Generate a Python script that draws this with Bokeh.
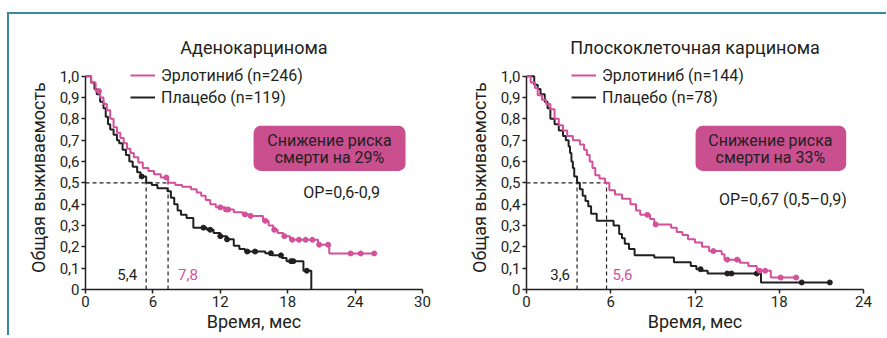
import numpy as np
from bokeh.plotting import figure
from bokeh.layouts import row
from bokeh.models import Range1d, FixedTicker, BoxAnnotation, Legend, LegendItem
from bokeh.core.properties import value
from bokeh.embed import file_html
from bokeh.resources import INLINE

# ---------------- data ----------------
titles = ["Аденокарцинома", "Плоскоклеточная карцинома"]
legend_ero = ["Эрлотиниб (n=246)", "Эрлотиниб (n=144)"]
legend_pl = ["Плацебо (n=119)", "Плацебо (n=78)"]
box_line1 = ["Снижение риска", "Снижение риска"]
box_line2 = ["смерти на 29%", "смерти на 33%"]
hr_text = ["ОР=0,6-0,9", "ОР=0,67 (0,5–0,9)"]
x_max = [30, 24]
x_ticks = [[0, 6, 12, 18, 24, 30], [0, 6, 12, 18, 24]]
y_ticks = [0, 0.1, 0.2, 0.3, 0.4, 0.5, 0.6, 0.7, 0.8, 0.9, 1.0]
y_tick_labels = ["0", "0,1", "0,2", "0,3", "0,4", "0,5", "0,6", "0,7", "0,8", "0,9", "1,0"]

# Adenocarcinoma – erlotinib
ade_ero_t = [0, 0.5, 0.9, 1.3, 1.6, 1.9, 2.2, 2.5, 2.8, 3.1, 3.4, 3.7, 4.0, 4.3, 4.7, 5.1, 5.6, 6.1, 6.7, 7.35,
             8.0, 8.6, 9.4, 9.9, 10.3, 10.7, 11.1, 11.6, 12.4, 13.2, 14.0, 14.6, 15.8, 16.3, 16.7, 17.1, 17.6,
             18.2, 20.7, 21.7]
ade_ero_s = [1.0, 0.97, 0.93, 0.90, 0.87, 0.84, 0.80, 0.76, 0.735, 0.71, 0.685, 0.66, 0.64, 0.62, 0.595, 0.57,
             0.555, 0.54, 0.525, 0.50, 0.49, 0.482, 0.47, 0.455, 0.44, 0.42, 0.40, 0.385, 0.375, 0.362, 0.352,
             0.345, 0.322, 0.30, 0.28, 0.265, 0.25, 0.233, 0.21, 0.169]
ade_ero_end = 25.8
ade_ero_cens = [1.2, 7.2, 12.0, 12.5, 12.7, 14.2, 14.7, 16.0, 16.8, 17.7, 18.4, 19.0, 19.6, 20.2, 20.8, 21.6,
                23.6, 24.5, 25.7]

# Adenocarcinoma – placebo
ade_pl_t = [0, 0.5, 0.8, 1.0, 1.3, 1.6, 1.8, 2.0, 2.2, 2.5, 2.8, 3.0, 3.3, 3.6, 3.9, 4.2, 4.6, 4.9, 5.4, 5.9,
            6.4, 7.3, 7.6, 7.9, 8.2, 8.5, 9.0, 9.6, 10.8, 11.4, 12.0, 12.6, 13.2, 13.7, 14.2, 16.0, 16.6, 17.5,
            17.9, 19.4, 20.1]
ade_pl_s = [1.0, 0.97, 0.94, 0.915, 0.88, 0.85, 0.81, 0.775, 0.75, 0.725, 0.70, 0.685, 0.655, 0.63, 0.60,
            0.575, 0.55, 0.53, 0.50, 0.49, 0.475, 0.46, 0.43, 0.40, 0.37, 0.35, 0.335, 0.29, 0.28, 0.265, 0.25,
            0.235, 0.205, 0.19, 0.178, 0.17, 0.16, 0.148, 0.133, 0.088, 0.0]
ade_pl_end = 20.1
ade_pl_cens = [5.0, 10.5, 11.1, 12.0, 12.6, 14.4, 15.1, 16.5, 17.4, 18.3, 18.5, 19.7]

# Squamous – erlotinib
sq_ero_t = [0, 0.3, 0.6, 0.8, 1.1, 1.4, 1.7, 2.0, 2.3, 2.6, 2.9, 3.3, 3.8, 4.1, 4.3, 4.5, 4.7, 4.9, 5.2, 5.6,
            5.9, 6.3, 6.8, 7.4, 7.8, 8.1, 8.8, 9.1, 10.3, 10.7, 11.1, 11.5, 12.0, 12.5, 13.0, 13.9, 14.1, 15.2,
            15.8, 16.4, 17.4]
sq_ero_s = [1.0, 0.97, 0.945, 0.91, 0.89, 0.87, 0.845, 0.80, 0.77, 0.745, 0.72, 0.70, 0.68, 0.655, 0.63, 0.60,
            0.57, 0.535, 0.52, 0.50, 0.465, 0.445, 0.425, 0.40, 0.37, 0.35, 0.33, 0.305, 0.29, 0.27, 0.255,
            0.235, 0.22, 0.20, 0.18, 0.165, 0.14, 0.125, 0.11, 0.088, 0.056]
sq_ero_end = 19.26
sq_ero_cens = [8.6, 9.2, 13.3, 14.3, 15.0, 16.6, 17.0, 18.1, 19.2]

# Squamous – placebo
sq_pl_t = [0, 0.55, 0.8, 1.0, 1.3, 1.5, 1.7, 2.0, 2.3, 2.6, 2.8, 3.0, 3.1, 3.2, 3.3, 3.4, 3.6, 3.8, 4.0, 4.2,
           4.4, 4.6, 5.0, 6.2, 6.6, 6.8, 7.0, 7.3, 7.7, 9.1, 10.5, 11.7, 12.1, 12.5, 12.9, 16.7]
sq_pl_s = [1.0, 0.96, 0.94, 0.915, 0.88, 0.85, 0.80, 0.775, 0.745, 0.72, 0.70, 0.67, 0.64, 0.60, 0.57, 0.53,
           0.50, 0.47, 0.44, 0.415, 0.39, 0.355, 0.322, 0.30, 0.26, 0.24, 0.215, 0.19, 0.16, 0.15, 0.128, 0.11,
           0.095, 0.088, 0.075, 0.033]
sq_pl_end = 21.6
sq_pl_cens = [12.4, 14.3, 14.6, 16.4, 19.6, 21.6]

median_pl = [5.4, 3.6]
median_ero = [7.35, 5.7]
median_pl_label = ["5,4", "3,6"]
median_ero_label = ["7,8", "5,6"]

# box positions (data units): left, right, bottom, top, text x
box_lr = [(14.96, 28.49), (12.04, 22.77)]
box_bt = (0.556, 0.767)
box_text_x = [21.72, 17.37]
box_text_y = [0.70, 0.62]
hr_xy = [(22.8, 0.453), (18.26, 0.42)]
median_label_y = 0.068

PINK = "#d4509b"
BOX = "#c94f8f"
INK = "#231f20"
FRAME = "#3b87a2"
FONT = "Roboto"


def km_xy(t, s, end):
    return list(t) + [end], list(s) + [s[-1]]


def at(t, s, c):
    idx = np.searchsorted(np.array(t), np.array(c), side="right") - 1
    return [s[i] for i in idx]


def panel(i, width, left_border, right_border, ero, pl, label_offsets):
    top_b, bot_b, frame_h = 51, 46, 224
    p = figure(width=width, height=top_b + frame_h + bot_b, output_backend="svg", toolbar_location=None,
               x_range=Range1d(0, x_max[i]), y_range=Range1d(0, 1.05),
               min_border_left=left_border, min_border_right=right_border,
               min_border_top=top_b, min_border_bottom=bot_b)
    p.outline_line_color = None
    p.grid.visible = False
    p.background_fill_color = "white"
    p.border_fill_color = "white"

    p.title.text = titles[i]
    p.title.align = "center"
    p.title.text_font = FONT
    p.title.text_font_size = "18px"
    p.title.text_font_style = "normal"
    p.title.text_color = INK
    p.title.standoff = 16

    for ax in (p.xaxis[0], p.yaxis[0]):
        ax.axis_line_color = INK
        ax.axis_line_width = 1.5
        ax.major_tick_line_color = INK
        ax.major_tick_line_width = 1.5
        ax.major_tick_in = 0
        ax.major_tick_out = 4
        ax.minor_tick_line_color = None
        ax.major_label_text_font = FONT
        ax.major_label_text_font_size = "15px"
        ax.major_label_text_color = INK
        ax.axis_label_text_font = FONT
        ax.axis_label_text_font_size = "18px"
        ax.axis_label_text_font_style = "normal"
        ax.axis_label_text_color = INK
        ax.major_label_standoff = 2
    p.xaxis[0].ticker = FixedTicker(ticks=x_ticks[i])
    p.xaxis[0].axis_label = "Время, мес"
    p.xaxis[0].axis_label_standoff = 1
    p.yaxis[0].ticker = FixedTicker(ticks=y_ticks)
    p.yaxis[0].bounds = (0, 1)
    p.yaxis[0].major_label_overrides = {v: l for v, l in zip(y_ticks, y_tick_labels)}
    p.yaxis[0].axis_label = "Общая выживаемость"
    p.yaxis[0].axis_label_standoff = 8

    # dashed median guides
    p.line([0, median_ero[i]], [0.5, 0.5], line_color=INK, line_width=1.2, line_dash="4 3")
    for m in (median_pl[i], median_ero[i]):
        p.line([m, m], [0, 0.5], line_color=INK, line_width=1.2, line_dash="4 3")

    et, es, ee, ec = ero
    pt, ps, pe, pc = pl
    x, y = km_xy(pt, ps, pe)
    r_pl = p.step(x, y, mode="after", line_color=INK, line_width=2)
    p.scatter(pc, at(pt, ps, pc), size=5, color=INK)
    x, y = km_xy(et, es, ee)
    r_ero = p.step(x, y, mode="after", line_color=PINK, line_width=2)
    p.scatter(ec, at(et, es, ec), size=5, color=PINK)

    # median labels
    p.text([median_pl[i]], [median_label_y], text=[median_pl_label[i]], text_align="right",
           text_baseline="middle", x_offset=label_offsets[0], text_font=value(FONT),
           text_font_size="15px", text_color=INK)
    p.text([median_ero[i]], [median_label_y], text=[median_ero_label[i]], text_align="left",
           text_baseline="middle", x_offset=label_offsets[1], text_font=value(FONT),
           text_font_size="15px", text_color=PINK)

    # risk box
    l, r = box_lr[i]
    p.add_layout(BoxAnnotation(left=l, right=r, bottom=box_bt[0], top=box_bt[1], fill_color=BOX,
                               fill_alpha=1, line_color=None, border_radius=7, level="underlay"))
    p.text([box_text_x[i]] * 2, box_text_y, text=[box_line1[i], box_line2[i]], text_align="center",
           text_baseline="middle", text_font=value(FONT), text_font_size="16px", text_color=INK)
    p.text([hr_xy[i][0]], [hr_xy[i][1]], text=[hr_text[i]], text_align="center", text_baseline="middle",
           text_font=value(FONT), text_font_size="16px", text_color=INK)

    leg = Legend(items=[LegendItem(label=legend_ero[i], renderers=[r_ero]),
                        LegendItem(label=legend_pl[i], renderers=[r_pl])],
                 location=(45, 182), orientation="vertical", padding=0, margin=0, spacing=2,
                 glyph_width=25, glyph_height=20, label_height=20, label_standoff=6,
                 label_text_font=FONT, label_text_font_size="16px", label_text_color=INK,
                 background_fill_alpha=0, border_line_alpha=0)
    p.add_layout(leg, "center")
    return p


p1 = panel(0, 439, 76, 26, (ade_ero_t, ade_ero_s, ade_ero_end, ade_ero_cens),
           (ade_pl_t, ade_pl_s, ade_pl_end, ade_pl_cens), (-9, 10))
p2 = panel(1, 438, 78, 23, (sq_ero_t, sq_ero_s, sq_ero_end, sq_ero_cens),
           (sq_pl_t, sq_pl_s, sq_pl_end, sq_pl_cens), (-7, 6))

layout = row(p1, p2,
             styles={"margin-top": "12px", "margin-left": "7px",
                     "border-top": f"2px solid {FRAME}", "border-left": f"2px solid {FRAME}"})

open("out.html", "w").write(file_html(layout, INLINE))
